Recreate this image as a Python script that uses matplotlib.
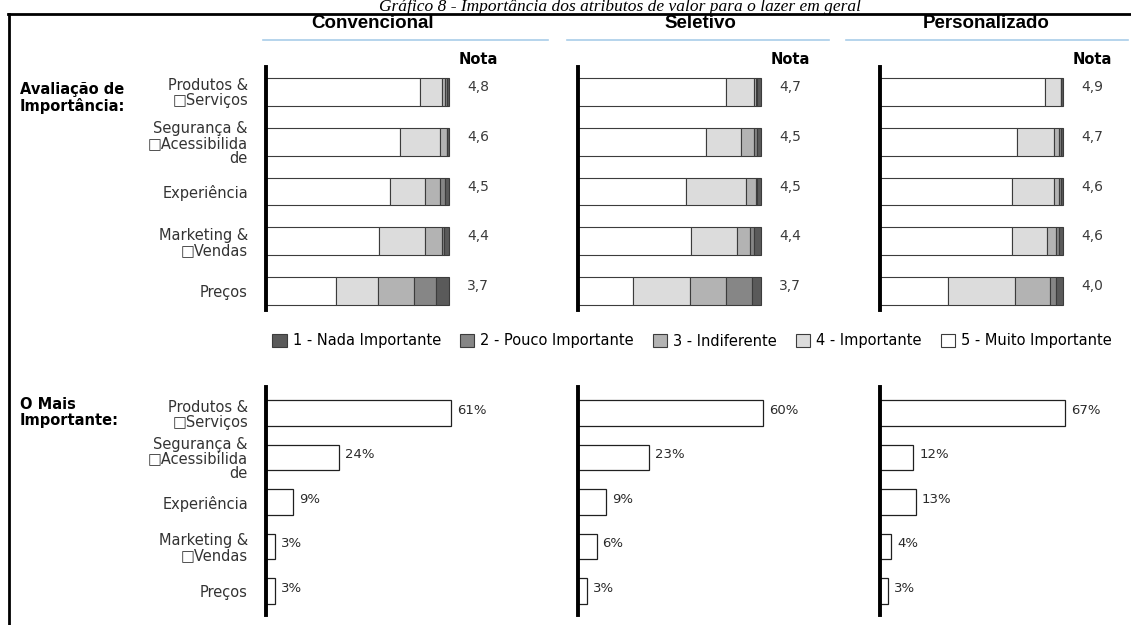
import matplotlib
matplotlib.use("Agg")
import matplotlib.pyplot as plt
from matplotlib.lines import Line2D
from matplotlib.patches import Patch
from matplotlib.transforms import offset_copy
import numpy as np

W, H = 1131, 625

categorias = ['Produtos &\n\u25a1Serviços', 'Segurança &\n\u25a1Acessibilida\nde',
              'Experiência', 'Marketing &\n\u25a1Vendas', 'Preços']
paineis = ['Convencional', 'Seletivo', 'Personalizado']

# legenda em ordem 1..5, barras empilhadas de 5 (branco) para 1 (escuro)
niveis = ['1 - Nada Importante', '2 - Pouco Importante', '3 - Indiferente',
          '4 - Importante', '5 - Muito Importante']
cores = ['#5a5a5a', '#868686', '#b3b3b3', '#dcdcdc', '#ffffff']

# % de respostas por categoria, colunas = nota 5, 4, 3, 2, 1
conv_dist = [[84, 12, 2, 1, 1],
             [73, 22, 4, 0, 1],
             [68, 19, 8, 3, 2],
             [62, 25, 9, 1, 3],
             [38, 23, 20, 12, 7]]
sel_dist = [[81, 15, 1, 1, 2],
            [70, 19, 7, 2, 2],
            [59, 33, 5, 1, 2],
            [62, 25, 7, 2, 4],
            [30, 31, 20, 14, 5]]
pers_dist = [[90, 9, 0, 0, 1],
             [75, 20, 3, 1, 1],
             [72, 23, 3, 1, 1],
             [72, 19, 5, 2, 2],
             [37, 37, 19, 3, 4]]

conv_nota = [4.8, 4.6, 4.5, 4.4, 3.7]
sel_nota = [4.7, 4.5, 4.5, 4.4, 3.7]
pers_nota = [4.9, 4.7, 4.6, 4.6, 4.0]

# "O Mais Importante" (%)
conv_top = [61, 24, 9, 3, 3]
sel_top = [60, 23, 9, 6, 3]
pers_top = [67, 12, 13, 4, 3]

dists = [conv_dist, sel_dist, pers_dist]
notas = [conv_nota, sel_nota, pers_nota]
tops = [conv_top, sel_top, pers_top]

plt.rcParams['font.family'] = ['DejaVu Sans']


def caixa(x0, y0, x1, y1):
    return [x0 / W, 1 - y1 / H, (x1 - x0) / W, (y1 - y0) / H]


def fx(x):
    return x / W


def fy(y):
    return 1 - y / H


fig = plt.figure(figsize=(W / 100, H / 100), dpi=100)

# moldura e titulo
fig.add_artist(Line2D([fx(8.5), fx(8.5)], [fy(14), 0], color='black', lw=2))
fig.add_artist(Line2D([fx(8), 1], [fy(14), fy(14)], color='black', lw=2))
fig.text(fx(620), fy(11), 'Gráfico 8 - Importância dos atributos de valor para o lazer em geral',
         family='Liberation Serif', style='italic', fontsize=12.5, ha='center', va='baseline')

eixo_x = [266, 578, 880]
titulo_x = [373, 700, 986]
linha_azul = [(263, 548), (567, 829), (846, 1128)]

y = np.arange(len(categorias))

for p in range(3):
    x0 = eixo_x[p]
    fig.text(fx(titulo_x[p]), fy(24), paineis[p], family='Liberation Sans',
             fontsize=13.5, weight='bold', ha='center', va='center')
    a, b = linha_azul[p]
    fig.add_artist(Line2D([fx(a), fx(b)], [fy(40), fy(40)], color='#a9cde9', lw=1.2))

    # avaliacao de importancia
    ax = fig.add_axes(caixa(x0, 67, x0 + 183, 310))
    dist = np.array(dists[p])
    esq = np.zeros(len(categorias))
    for k in range(5):
        nivel = 4 - k
        ax.barh(y, dist[:, k], left=esq, height=0.56, color=cores[nivel],
                edgecolor='#3c3c3c', linewidth=0.8, clip_on=False)
        esq += dist[:, k]
    ax.set_xlim(0, 100)
    ax.set_ylim(4.38, -0.5)
    tr = offset_copy(ax.transData, fig=fig, x=29, y=0, units='dots')
    for i, v in enumerate(notas[p]):
        ax.text(100, i - 0.1, f'{v:.1f}'.replace('.', ','), transform=tr,
                fontsize=10, color='#3a3a3a', ha='center', va='center', clip_on=False)
    ax.text(100, -0.5, 'Nota', transform=offset_copy(ax.transData, fig=fig, x=29, y=0, units='dots'),
            fontsize=10.5, weight='bold', ha='center', va='bottom', clip_on=False)

    # o mais importante
    bx = fig.add_axes(caixa(x0, 387, x0 + 186, 615))
    bx.barh(y, tops[p], height=0.58, color='white', edgecolor='#202020', linewidth=0.9,
            clip_on=False)
    bx.set_xlim(0, max(tops[p]) * 1.005)
    bx.set_ylim(4 + 24 / 44.5, -26 / 44.5)
    trb = offset_copy(bx.transData, fig=fig, x=6, y=0, units='dots')
    for i, v in enumerate(tops[p]):
        bx.text(v, i - 0.06, f'{v}%', transform=trb, fontsize=9.5, color='#2a2a2a',
                ha='left', va='center', clip_on=False)

    for eixo in (ax, bx):
        for s in ('top', 'right', 'bottom'):
            eixo.spines[s].set_visible(False)
        eixo.spines['left'].set_linewidth(2.8)
        eixo.spines['left'].set_zorder(5)
        eixo.set_xticks([])
        eixo.set_yticks(y)
        if p == 0:
            eixo.set_yticklabels(categorias, fontsize=10.5, color='#333333',
                                 linespacing=1.0)
        else:
            eixo.set_yticklabels([])
        eixo.tick_params(axis='y', length=0, pad=13)
        eixo.patch.set_alpha(0)

fig.text(fx(20), fy(82), 'Avaliação de\nImportância:', fontsize=10.5, weight='bold',
         ha='left', va='top', linespacing=1.05)
fig.text(fx(20), fy(397), 'O Mais\nImportante:', fontsize=10.5, weight='bold',
         ha='left', va='top', linespacing=1.05)

alcas = [Patch(facecolor=c, edgecolor='#3c3c3c', linewidth=0.8) for c in cores]
fig.legend(alcas, niveis, loc='center', bbox_to_anchor=(fx(692), fy(341)), ncol=5,
           frameon=False, fontsize=10.5, handlelength=1.0, handleheight=1.0,
           handletextpad=0.4, columnspacing=1.3, borderaxespad=0, borderpad=0)

fig.savefig('out.png', dpi=100, facecolor='white')
